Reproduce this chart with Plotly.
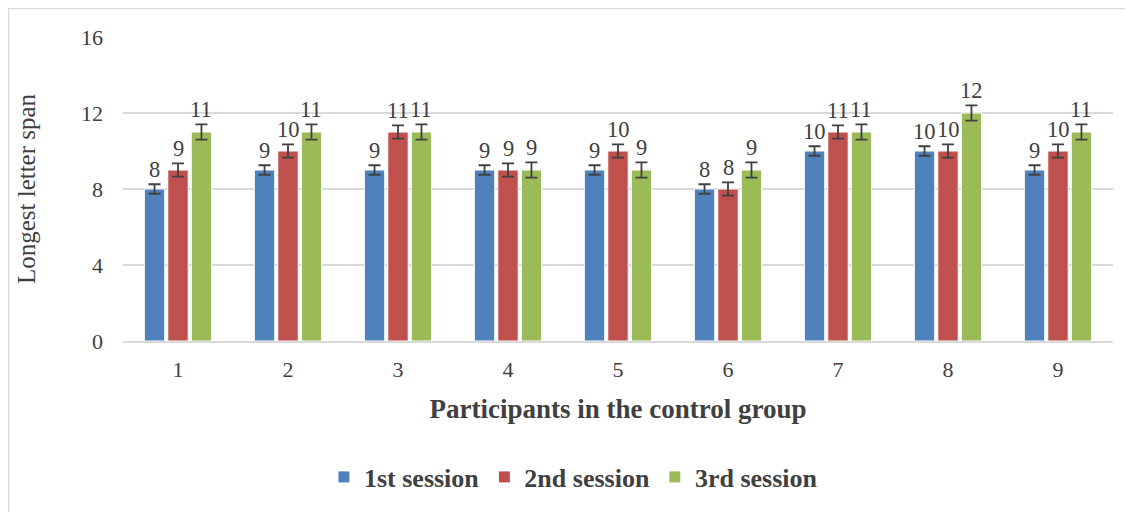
import plotly.graph_objects as go

participants = [1, 2, 3, 4, 5, 6, 7, 8, 9]
session1 = [8, 9, 9, 9, 9, 8, 10, 10, 9]
session2 = [9, 10, 11, 9, 10, 8, 11, 10, 10]
session3 = [11, 11, 11, 9, 9, 9, 11, 12, 11]
err1 = [0.25] * 9
err2 = [0.35] * 9
err3 = [0.4] * 9
names = ["1st session", "2nd session", "3rd session"]
colors = ["#4F81BD", "#C0504D", "#9BBB59"]
yticks = [0, 4, 8, 12, 16]

FONT = "Liberation Serif"
TXT = "#404040"

W, H = 1133, 512
L, R, T, B = 115, 28, 29, 179
PW, PH = W - L - R, H - T - B

fig = go.Figure()
series = [session1, session2, session3]
errs = [err1, err2, err3]
for vals, er, nm, c in zip(series, errs, names, colors):
    fig.add_trace(go.Bar(
        x=participants, y=vals, name=nm,
        marker=dict(color=c, line=dict(color="white", width=1)),
        error_y=dict(type="data", array=er, visible=True, color="#404040",
                     thickness=1.8, width=6),
    ))

slot = PW / 9
bargap = 0.36
bw = slot * (1 - bargap) / 3
for k, (vals, er) in enumerate(zip(series, errs)):
    for x, v, e in zip(participants, vals, er):
        fig.add_annotation(x=x, y=v + e, text=str(v), showarrow=False,
                           xshift=(k - 1) * bw, yanchor="bottom", yshift=0,
                           font=dict(family=FONT, size=22.5, color=TXT))

fig.update_layout(
    width=W, height=H,
    margin=dict(l=L, r=R, t=T, b=B),
    paper_bgcolor="white", plot_bgcolor="white",
    barmode="group", bargap=bargap, bargroupgap=0.13,
    font=dict(family=FONT, color=TXT),
    legend=dict(orientation="h", x=0.455, xanchor="center",
                y=(PH - (469 - T)) / PH, yanchor="middle",
                font=dict(family=FONT, size=26, color=TXT, weight="bold"),
                itemwidth=30, traceorder="normal"),
    shapes=[dict(type="rect", xref="paper", yref="paper",
                 x0=(0.5 - L) / PW, x1=(W + 10 - L) / PW,
                 y0=(PH - (H + 10 - T)) / PH, y1=(PH - (0.5 - T)) / PH,
                 line=dict(color="#D9D9D9", width=1.5))],
)
fig.update_xaxes(
    tickmode="array", tickvals=participants, ticktext=[str(p) for p in participants],
    range=[0.5, 9.5], showgrid=False, showline=True, linecolor="#D9D9D9",
    linewidth=1.5, ticks="", tickfont=dict(family=FONT, size=22, color=TXT),
    ticklabelstandoff=8,
    title=dict(text="<b>Participants in the control group</b>", standoff=18,
               font=dict(family=FONT, size=27, color=TXT)),
)
fig.update_yaxes(
    range=[0, 16], tickvals=yticks, showgrid=True, gridcolor="#D9D9D9",
    gridwidth=1.5, zeroline=False, showline=False, ticks="",
    tickfont=dict(family=FONT, size=22, color=TXT), ticklabelstandoff=19,
    title=dict(text="Longest letter span", standoff=38,
               font=dict(family=FONT, size=25, color=TXT)),
)

fig.write_html("out.html")
